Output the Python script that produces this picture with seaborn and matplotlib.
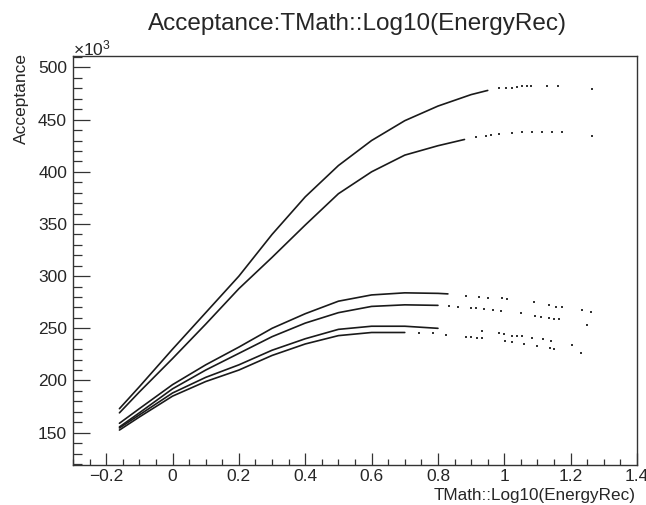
import matplotlib
matplotlib.use("Agg")
import matplotlib.pyplot as plt
import pandas as pd
import seaborn as sns
from matplotlib.ticker import MultipleLocator, FuncFormatter

sns.set_style("white")
plt.rcParams["font.family"] = ["Liberation Sans", "DejaVu Sans"]
plt.rcParams["mathtext.fontset"] = "custom"
plt.rcParams["mathtext.rm"] = "Liberation Sans"
plt.rcParams["mathtext.default"] = "regular"

# ---- data (Acceptance in units of 1e3) ----
# dense parts of each band
a_x = [-0.16, -0.1, 0.0, 0.1, 0.2, 0.3, 0.4, 0.5, 0.6, 0.7, 0.8, 0.9, 0.95]
a_y = [173, 194, 230, 265, 300, 340, 376, 406, 430, 449, 463, 474, 478]
b_x = [-0.16, -0.1, 0.0, 0.1, 0.2, 0.3, 0.4, 0.5, 0.6, 0.7, 0.8, 0.88]
b_y = [169, 189, 221, 254, 288, 318, 349, 379, 400, 416, 425, 431]
c_x = [-0.16, -0.1, 0.0, 0.1, 0.2, 0.3, 0.4, 0.5, 0.6, 0.7, 0.8, 0.83]
c_y = [159, 173, 196, 215, 232, 250, 264, 276, 282, 284, 283.5, 283]
d_x = [-0.16, -0.1, 0.0, 0.1, 0.2, 0.3, 0.4, 0.5, 0.6, 0.7, 0.8]
d_y = [155.5, 169, 192, 210, 226, 242, 255, 265, 271, 272.5, 272]
e_x = [-0.16, -0.1, 0.0, 0.1, 0.2, 0.3, 0.4, 0.5, 0.6, 0.7, 0.8]
e_y = [154.5, 167, 188, 203, 215, 229, 240, 249, 252, 252, 250]
f_x = [-0.16, -0.1, 0.0, 0.1, 0.2, 0.3, 0.4, 0.5, 0.6, 0.7]
f_y = [152.5, 165, 185, 199, 210, 224, 235, 243, 246, 246]

# sparse isolated points at high energy
a_sx = [0.984, 1.004, 1.024, 1.039, 1.054, 1.069, 1.079, 1.13, 1.163, 1.265]
a_sy = [479.9, 480.5, 480.8, 481.4, 482.1, 482.4, 482.4, 482.4, 482.4, 478.9]
b_sx = [0.914, 0.944, 0.959, 0.984, 1.024, 1.054, 1.084, 1.114, 1.144, 1.175, 1.265]
b_sy = [433.5, 434.2, 435.2, 435.8, 437.4, 438.0, 438.3, 438.3, 438.0, 438.0, 434.2]
c_sx = [0.884, 0.924, 0.952, 0.994, 1.009, 1.089, 1.135, 1.155, 1.175, 1.235, 1.26]
c_sy = [281.0, 280.3, 279.3, 278.7, 277.8, 274.9, 272.3, 270.7, 270.1, 267.5, 265.9]
d_sx = [0.834, 0.859, 0.899, 0.914, 0.939, 0.966, 0.989, 1.049, 1.093, 1.11, 1.134, 1.15, 1.165, 1.25]
d_sy = [271.4, 270.7, 269.7, 269.4, 268.5, 267.5, 266.6, 264.3, 262.1, 261.1, 259.6, 258.9, 258.6, 253.2]
e_sx = [0.934, 0.984, 0.999, 1.024, 1.039, 1.054, 1.083, 1.117, 1.14, 1.205, 1.23]
e_sy = [247.7, 245.2, 244.5, 242.9, 242.9, 242.6, 240.4, 239.4, 237.8, 234.0, 226.0]
f_sx = [0.744, 0.784, 0.824, 0.884, 0.899, 0.919, 0.934, 1.002, 1.024, 1.059, 1.099, 1.138, 1.15]
f_sy = [245.2, 245.2, 243.6, 242.0, 241.4, 241.0, 240.4, 238.1, 237.2, 235.0, 233.0, 231.4, 230.2]

x_ticks = [-0.2, 0, 0.2, 0.4, 0.6, 0.8, 1.0, 1.2, 1.4]
y_ticks = [150, 200, 250, 300, 350, 400, 450, 500]

dense = pd.concat([
    pd.DataFrame({"x": xs, "y": ys, "band": name})
    for name, xs, ys in [("a", a_x, a_y), ("b", b_x, b_y), ("c", c_x, c_y),
                         ("d", d_x, d_y), ("e", e_x, e_y), ("f", f_x, f_y)]
], ignore_index=True)
sparse = pd.concat([
    pd.DataFrame({"x": xs, "y": ys, "band": name})
    for name, xs, ys in [("a", a_sx, a_sy), ("b", b_sx, b_sy), ("c", c_sx, c_sy),
                         ("d", d_sx, d_sy), ("e", e_sx, e_sy), ("f", f_sx, f_sy)]
], ignore_index=True)

W, H = 646, 505
fig = plt.figure(figsize=(W / 100, H / 100), dpi=100)
ax = fig.add_axes([73 / W, 1 - 465 / H, (637 - 73) / W, (465 - 56) / H])

sns.lineplot(data=dense, x="x", y="y", units="band", estimator=None, sort=True,
             color="#1a1a1a", linewidth=1.2, ax=ax, legend=False)
sns.scatterplot(data=sparse, x="x", y="y", marker="s", s=1.3, color="#333333",
                linewidth=0, ax=ax, legend=False)

ax.set_xlim(-0.3, 1.4)
ax.set_ylim(119, 511)
ax.set_xticks(x_ticks)
ax.set_yticks(y_ticks)
ax.xaxis.set_minor_locator(MultipleLocator(0.05))
ax.yaxis.set_minor_locator(MultipleLocator(10))
ax.xaxis.set_major_formatter(FuncFormatter(lambda v, p: ("%g" % round(v, 2)).replace("-", "\u2212")))
ax.yaxis.set_major_formatter(FuncFormatter(lambda v, p: "%d" % v))
ax.tick_params(axis="x", which="major", direction="in", length=8.6, width=0.9,
               color="#333333", pad=3.2, labelsize=12.5, top=False, bottom=True)
ax.tick_params(axis="x", which="minor", direction="in", length=4.3, width=0.9,
               color="#333333", top=False, bottom=True)
ax.tick_params(axis="y", which="major", direction="in", length=12.2, width=0.9,
               color="#333333", pad=4.3, labelsize=12.5, left=True, right=False)
ax.tick_params(axis="y", which="minor", direction="in", length=6.5, width=0.9,
               color="#333333", left=True, right=False)
ax.set_xlabel("")
ax.set_ylabel("")
for s in ax.spines.values():
    s.set_color("#333333")
    s.set_linewidth(1.0)

fig.text(357 / W, 1 - 30 / H, "Acceptance:TMath::Log10(EnergyRec)", ha="center",
         va="baseline", fontsize=17.5)
fig.text(636 / W, 1 - 500 / H, "TMath::Log10(EnergyRec)", ha="right",
         va="baseline", fontsize=12.3)
fig.text(29 / W, 1 - 53 / H, "Acceptance", rotation=90, ha="right", va="top",
         fontsize=12.5)
fig.text(73 / W, 1 - 55 / H, "\u00d710$^{3}$", ha="left", va="baseline",
         fontsize=12.5)

fig.savefig("out.png", dpi=100, facecolor="white")
